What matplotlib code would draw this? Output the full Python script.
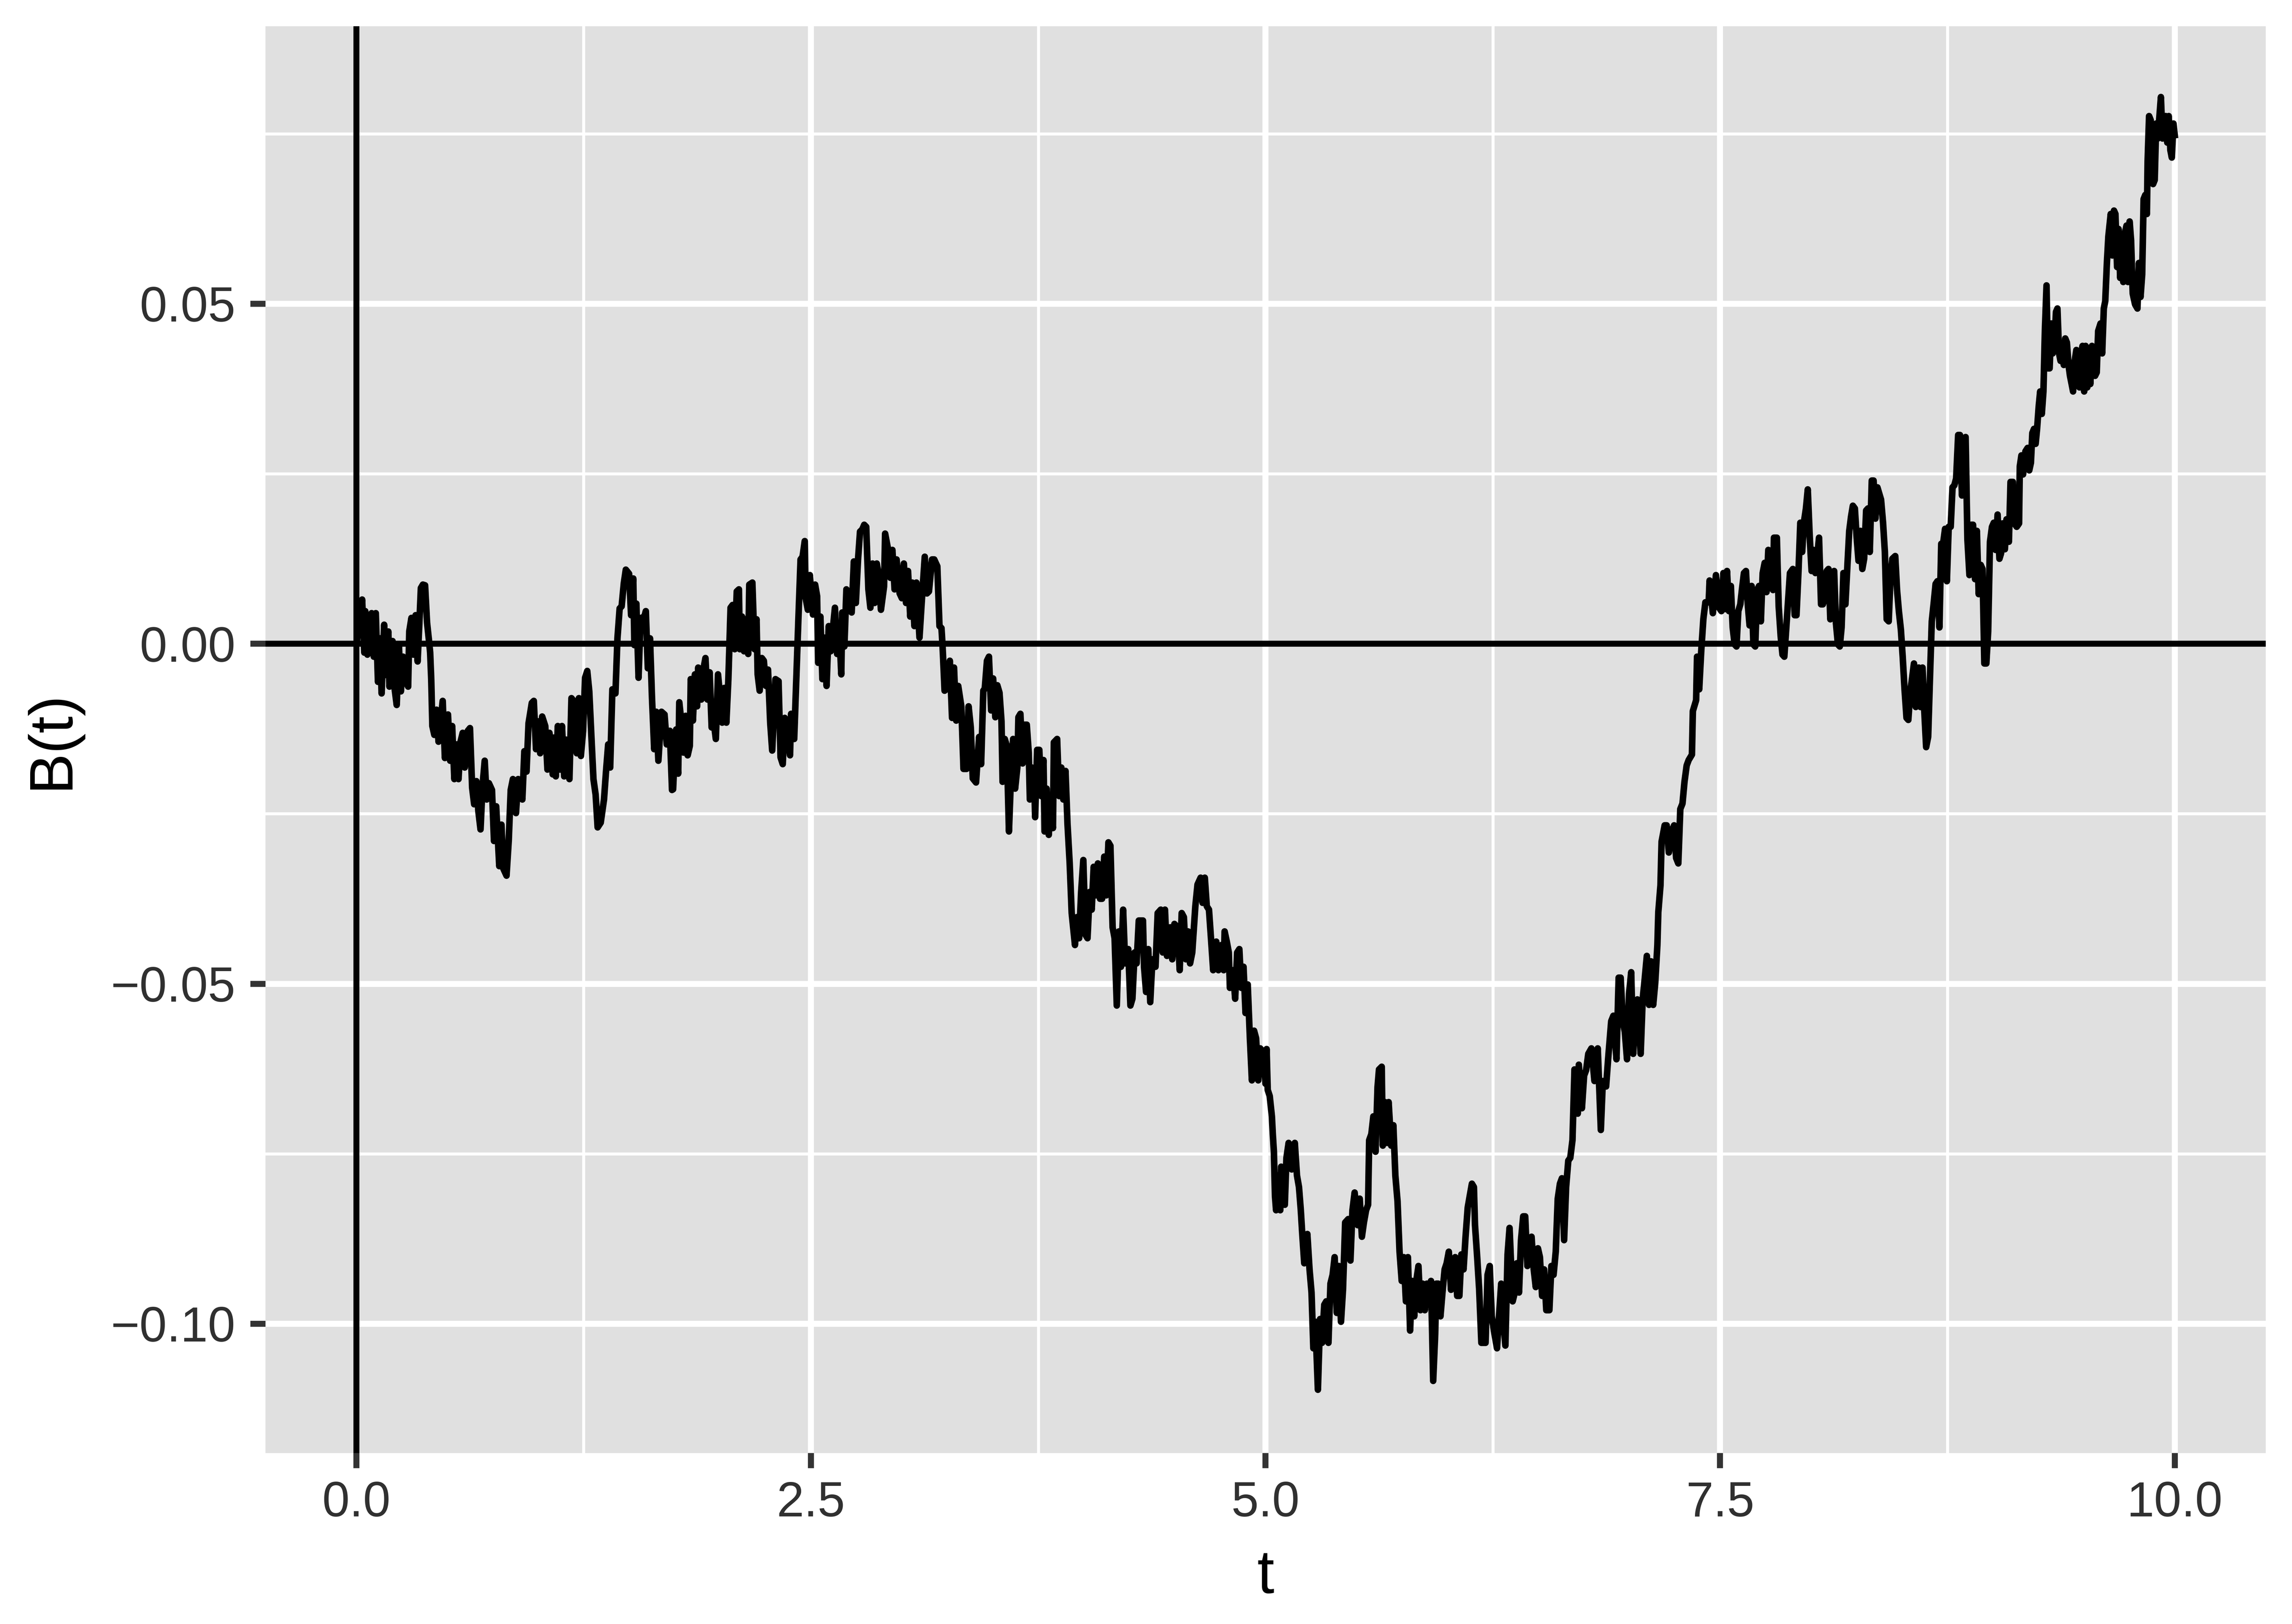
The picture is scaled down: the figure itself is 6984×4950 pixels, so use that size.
import numpy as np
import matplotlib.pyplot as plt

# digitised Brownian path B(t) in pieces of t
path_0_to_2 = [
    (0.0, 0.0), (0.003, 0.0001), (0.015, 0.0062), (0.021, 0.0015), (0.032, 0.0065), (0.044, -0.0013),
    (0.049, 0.0048), (0.061, -0.0016), (0.073, 0.0028), (0.084, 0.0045), (0.096, -0.0019), (0.107, 0.0045),
    (0.119, -0.0056), (0.130, 0.0008), (0.139, -0.0073), (0.153, 0.0028), (0.165, -0.0046), (0.176, 0.0018),
    (0.182, -0.0063), (0.199, 0.0004), (0.211, -0.0067), (0.222, -0.0090), (0.234, -0.0002), (0.245, -0.0070),
    (0.257, -0.0019), (0.268, -0.0053), (0.285, -0.0063), (0.291, 0.0018), (0.303, 0.0038), (0.314, -0.0016),
    (0.326, 0.0042), (0.337, -0.0026), (0.349, 0.0045), (0.355, 0.0082), (0.366, 0.0087), (0.378, 0.0086),
    (0.389, 0.0031), (0.401, 0.0001), (0.406, -0.0013), (0.412, -0.0053), (0.418, -0.0121), (0.429, -0.0134),
    (0.441, -0.0097), (0.452, -0.0144), (0.475, -0.0084), (0.487, -0.0168), (0.504, -0.0104), (0.516, -0.0172),
    (0.527, -0.0121), (0.539, -0.0199), (0.550, -0.0148), (0.562, -0.0199), (0.573, -0.0144), (0.585, -0.0131),
    (0.596, -0.0182), (0.613, -0.0128), (0.625, -0.0124), (0.637, -0.0212), (0.648, -0.0236), (0.660, -0.0202),
    (0.671, -0.0246), (0.683, -0.0273), (0.694, -0.0209), (0.706, -0.0172), (0.717, -0.0229), (0.729, -0.0205),
    (0.746, -0.0215), (0.757, -0.0290), (0.769, -0.0239), (0.786, -0.0327), (0.798, -0.0266), (0.809, -0.0331),
    (0.826, -0.0341), (0.838, -0.0290), (0.849, -0.0215), (0.861, -0.0199), (0.878, -0.0249), (0.890, -0.0199),
    (0.913, -0.0229), (0.924, -0.0158), (0.936, -0.0188), (0.947, -0.0117), (0.965, -0.0087), (0.976, -0.0084),
    (0.988, -0.0155), (0.999, -0.0114), (1.011, -0.0161), (1.022, -0.0107), (1.039, -0.0121), (1.051, -0.0185),
    (1.062, -0.0131), (1.080, -0.0192), (1.085, -0.0138), (1.097, -0.0195), (1.108, -0.0121), (1.120, -0.0185),
    (1.131, -0.0121), (1.143, -0.0195), (1.154, -0.0141), (1.172, -0.0199), (1.183, -0.0080), (1.195, -0.0084),
    (1.212, -0.0161), (1.224, -0.0080), (1.235, -0.0165), (1.247, -0.0128), (1.258, -0.0050), (1.270, -0.0040),
    (1.281, -0.0070), (1.293, -0.0138), (1.304, -0.0199), (1.316, -0.0222), (1.327, -0.0270), (1.344, -0.0263),
    (1.362, -0.0229), (1.373, -0.0188), (1.385, -0.0148), (1.396, -0.0182), (1.408, -0.0067), (1.425, -0.0073),
    (1.436, 0.0008), (1.448, 0.0052), (1.459, 0.0055), (1.471, 0.0089), (1.482, 0.0109), (1.500, 0.0103),
    (1.511, 0.0042), (1.523, 0.0096), (1.529, -0.0002), (1.540, 0.0059), (1.552, -0.0050), (1.563, 0.0038),
    (1.575, 0.0038), (1.586, 0.0042), (1.592, 0.0048), (1.603, -0.0036), (1.615, 0.0008), (1.626, -0.0080),
    (1.638, -0.0155), (1.649, -0.0100), (1.661, -0.0172), (1.678, -0.0100), (1.695, -0.0104), (1.707, -0.0148),
    (1.724, -0.0128), (1.736, -0.0215),
]

path_2_to_3 = [
    (1.742, -0.0214), (1.753, -0.0150), (1.759, -0.0126), (1.770, -0.0191), (1.776, -0.0086), (1.788, -0.0116),
    (1.799, -0.0160), (1.811, -0.0106), (1.822, -0.0164), (1.834, -0.0150), (1.839, -0.0052), (1.851, -0.0113),
    (1.862, -0.0045), (1.874, -0.0092), (1.880, -0.0035), (1.897, -0.0082), (1.908, -0.0038), (1.920, -0.0021),
    (1.931, -0.0082), (1.943, -0.0042), (1.954, -0.0123), (1.966, -0.0116), (1.977, -0.0140), (1.989, -0.0045),
    (2.000, -0.0076), (2.012, -0.0116), (2.023, -0.0065), (2.035, -0.0116), (2.046, -0.0052), (2.058, 0.0053),
    (2.069, 0.0057), (2.081, -0.0008), (2.092, 0.0077), (2.104, 0.0080), (2.109, -0.0008), (2.121, 0.0040),
    (2.132, -0.0011), (2.144, 0.0036), (2.155, -0.0015), (2.161, 0.0087), (2.178, 0.0090), (2.190, -0.0008),
    (2.201, 0.0036), (2.207, -0.0045), (2.218, -0.0069), (2.230, -0.0021), (2.241, -0.0025), (2.253, -0.0062),
    (2.264, -0.0038), (2.276, -0.0116), (2.287, -0.0157), (2.305, -0.0052), (2.322, -0.0055), (2.333, -0.0167),
    (2.345, -0.0177), (2.356, -0.0109), (2.368, -0.0116), (2.385, -0.0164), (2.391, -0.0103), (2.408, -0.0140),
    (2.420, -0.0048), (2.431, 0.0036), (2.443, 0.0124), (2.454, 0.0128), (2.466, 0.0151), (2.471, 0.0067),
    (2.483, 0.0050), (2.494, 0.0101), (2.511, 0.0043), (2.523, 0.0087), (2.534, 0.0070), (2.540, -0.0028),
    (2.552, 0.0040), (2.563, -0.0052), (2.575, 0.0009), (2.586, -0.0062), (2.598, 0.0026), (2.609, -0.0011),
    (2.621, 0.0023), (2.632, 0.0053), (2.644, -0.0015), (2.655, 0.0023), (2.667, -0.0045), (2.672, 0.0046),
    (2.684, -0.0004), (2.695, 0.0080), (2.707, 0.0053), (2.724, 0.0046), (2.736, 0.0121), (2.747, 0.0060),
    (2.759, 0.0124), (2.770, 0.0165), (2.782, 0.0168), (2.793, 0.0175), (2.804, 0.0172), (2.816, 0.0080),
    (2.827, 0.0053), (2.839, 0.0118), (2.850, 0.0060), (2.862, 0.0118), (2.873, 0.0101), (2.885, 0.0050),
    (2.902, 0.0084), (2.908, 0.0162), (2.925, 0.0138), (2.937, 0.0097), (2.948, 0.0138), (2.960, 0.0080),
    (2.971, 0.0124), (2.988, 0.0074), (3.000, 0.0067), (3.011, 0.0118), (3.023, 0.0060), (3.034, 0.0107),
    (3.046, 0.0040), (3.057, 0.0090), (3.069, 0.0026), (3.080, 0.0090), (3.097, 0.0009), (3.109, 0.0060),
    (3.126, 0.0128), (3.138, 0.0074), (3.149, 0.0077), (3.166, 0.0124), (3.178, 0.0124), (3.195, 0.0114),
    (3.207, 0.0026), (3.218, 0.0023), (3.224, -0.0004), (3.235, -0.0069), (3.253, -0.0065), (3.264, -0.0025),
    (3.276, -0.0109), (3.287, -0.0035), (3.299, -0.0113), (3.310, -0.0062), (3.327, -0.0092), (3.339, -0.0184),
    (3.356, -0.0184), (3.367, -0.0092), (3.379, -0.0123), (3.390, -0.0198), (3.408, -0.0204), (3.425, -0.0137),
    (3.436, -0.0177), (3.448, -0.0069),
]

path_3_to_5 = [
    (3.456, -0.0066), (3.468, -0.0025), (3.479, -0.0019), (3.491, -0.0098), (3.502, -0.0051), (3.514, -0.0108),
    (3.525, -0.0061), (3.537, -0.0072), (3.548, -0.0114), (3.554, -0.0203), (3.566, -0.0140), (3.577, -0.0150),
    (3.589, -0.0276), (3.600, -0.0197), (3.612, -0.0140), (3.623, -0.0213), (3.635, -0.0182), (3.641, -0.0108),
    (3.652, -0.0103), (3.664, -0.0176), (3.675, -0.0119), (3.687, -0.0119), (3.698, -0.0161), (3.704, -0.0229),
    (3.715, -0.0182), (3.727, -0.0192), (3.733, -0.0255), (3.744, -0.0156), (3.756, -0.0156), (3.767, -0.0224),
    (3.779, -0.0171), (3.785, -0.0276), (3.796, -0.0213), (3.808, -0.0281), (3.819, -0.0229), (3.831, -0.0271),
    (3.836, -0.0145), (3.854, -0.0140), (3.865, -0.0224), (3.877, -0.0182), (3.888, -0.0229), (3.900, -0.0187),
    (3.911, -0.0265), (3.923, -0.0323), (3.934, -0.0396), (3.952, -0.0443), (3.963, -0.0402), (3.975, -0.0433),
    (3.986, -0.0365), (3.998, -0.0318), (4.010, -0.0428), (4.021, -0.0433), (4.033, -0.0365), (4.044, -0.0391),
    (4.055, -0.0328), (4.067, -0.0370), (4.078, -0.0323), (4.090, -0.0375), (4.101, -0.0375), (4.113, -0.0313),
    (4.124, -0.0370), (4.136, -0.0292), (4.147, -0.0297), (4.159, -0.0417), (4.170, -0.0433), (4.182, -0.0532),
    (4.194, -0.0423), (4.205, -0.0475), (4.217, -0.0391), (4.228, -0.0470), (4.245, -0.0449), (4.257, -0.0532),
    (4.268, -0.0522), (4.280, -0.0454), (4.291, -0.0470), (4.303, -0.0407), (4.314, -0.0407), (4.326, -0.0407),
    (4.332, -0.0475), (4.343, -0.0512), (4.355, -0.0449), (4.366, -0.0527), (4.378, -0.0464), (4.395, -0.0475),
    (4.407, -0.0396), (4.424, -0.0391), (4.435, -0.0454), (4.447, -0.0391), (4.458, -0.0459), (4.476, -0.0417),
    (4.487, -0.0464), (4.499, -0.0412), (4.516, -0.0417), (4.528, -0.0480), (4.539, -0.0396), (4.551, -0.0402),
    (4.562, -0.0464), (4.574, -0.0423), (4.585, -0.0470), (4.597, -0.0454), (4.614, -0.0386), (4.626, -0.0354),
    (4.643, -0.0344), (4.654, -0.0381), (4.666, -0.0344), (4.677, -0.0386), (4.689, -0.0391), (4.700, -0.0433),
    (4.712, -0.0480), (4.729, -0.0438), (4.741, -0.0480), (4.758, -0.0443), (4.770, -0.0480), (4.775, -0.0423),
    (4.787, -0.0438), (4.798, -0.0454), (4.804, -0.0506), (4.821, -0.0480), (4.833, -0.0522), (4.844, -0.0454),
    (4.856, -0.0449), (4.867, -0.0506), (4.879, -0.0475), (4.890, -0.0543), (4.902, -0.0501), (4.914, -0.0580),
    (4.925, -0.0642), (4.937, -0.0569), (4.948, -0.0580), (4.960, -0.0642), (4.971, -0.0595), (4.988, -0.0601),
    (5.000, -0.0647),
]

path_5_to_7 = [
    (5.006, -0.0596), (5.012, -0.0656), (5.023, -0.0665), (5.035, -0.0695), (5.040, -0.0721), (5.046, -0.0747),
    (5.052, -0.0812), (5.058, -0.0833), (5.067, -0.0782), (5.075, -0.0825), (5.081, -0.0833), (5.086, -0.0769),
    (5.098, -0.0807), (5.106, -0.0825), (5.115, -0.0756), (5.127, -0.0734), (5.144, -0.0773), (5.161, -0.0734),
    (5.173, -0.0782), (5.184, -0.0799), (5.194, -0.0833), (5.202, -0.0868), (5.213, -0.0911), (5.230, -0.0868),
    (5.242, -0.0920), (5.253, -0.0954), (5.263, -0.1036), (5.274, -0.0997), (5.288, -0.1097), (5.300, -0.0993),
    (5.311, -0.1028), (5.323, -0.0972), (5.334, -0.0967), (5.346, -0.1028), (5.357, -0.0941), (5.369, -0.0928),
    (5.380, -0.0902), (5.392, -0.0984), (5.403, -0.0915), (5.415, -0.0997), (5.426, -0.0950), (5.438, -0.0851),
    (5.455, -0.0846), (5.467, -0.0907), (5.478, -0.0833), (5.490, -0.0807), (5.507, -0.0855), (5.518, -0.0816),
    (5.530, -0.0872), (5.541, -0.0851), (5.553, -0.0833), (5.564, -0.0825), (5.570, -0.0730), (5.582, -0.0721),
    (5.593, -0.0695), (5.605, -0.0747), (5.616, -0.0652), (5.624, -0.0626), (5.639, -0.0622), (5.645, -0.0738),
    (5.657, -0.0674), (5.668, -0.0734), (5.677, -0.0674), (5.691, -0.0738), (5.703, -0.0708), (5.714, -0.0782),
    (5.726, -0.0820), (5.737, -0.0894), (5.749, -0.0937), (5.760, -0.0902), (5.772, -0.0967), (5.783, -0.0902),
    (5.795, -0.1010), (5.806, -0.0937), (5.818, -0.0989), (5.829, -0.0937), (5.841, -0.0915), (5.852, -0.0980),
    (5.864, -0.0941), (5.876, -0.0980), (5.887, -0.0941), (5.899, -0.0954), (5.910, -0.0937), (5.922, -0.1084),
    (5.933, -0.1015), (5.939, -0.0941), (5.950, -0.0941), (5.962, -0.0989), (5.973, -0.0954), (5.985, -0.0920),
    (5.996, -0.0911), (6.008, -0.0894), (6.020, -0.0950), (6.031, -0.0907), (6.043, -0.0902), (6.054, -0.0959),
    (6.066, -0.0959), (6.077, -0.0898), (6.089, -0.0920), (6.100, -0.0872), (6.112, -0.0829), (6.123, -0.0812),
    (6.135, -0.0794), (6.146, -0.0799), (6.152, -0.0855), (6.164, -0.0902), (6.175, -0.0950), (6.187, -0.1028),
    (6.210, -0.1028), (6.221, -0.0928), (6.233, -0.0915), (6.244, -0.0989), (6.256, -0.1010), (6.273, -0.1036),
    (6.284, -0.0989), (6.296, -0.0941), (6.308, -0.0997), (6.319, -0.1032), (6.331, -0.0898), (6.342, -0.0859),
    (6.359, -0.0967), (6.371, -0.0954), (6.382, -0.0911), (6.394, -0.0954), (6.405, -0.0877), (6.417, -0.0842),
    (6.428, -0.0842), (6.440, -0.0915), (6.452, -0.0877), (6.463, -0.0872), (6.475, -0.0920), (6.486, -0.0946),
    (6.498, -0.0889), (6.509, -0.0902), (6.521, -0.0959), (6.532, -0.0920), (6.544, -0.0980), (6.561, -0.0980),
    (6.572, -0.0915), (6.584, -0.0928), (6.596, -0.0894), (6.607, -0.0816), (6.619, -0.0794), (6.630, -0.0786),
    (6.642, -0.0877), (6.653, -0.0799), (6.665, -0.0760), (6.676, -0.0756), (6.688, -0.0730), (6.699, -0.0626),
]

path_7_to_8 = [
    (6.706, -0.0635), (6.717, -0.0691), (6.723, -0.0619), (6.740, -0.0683), (6.752, -0.0635), (6.763, -0.0627),
    (6.775, -0.0603), (6.792, -0.0595), (6.809, -0.0643), (6.827, -0.0595), (6.844, -0.0715), (6.855, -0.0643),
    (6.873, -0.0651), (6.884, -0.0611), (6.901, -0.0555), (6.913, -0.0547), (6.930, -0.0611), (6.942, -0.0491),
    (6.953, -0.0491), (6.965, -0.0555), (6.976, -0.0571), (6.988, -0.0611), (6.999, -0.0515), (7.011, -0.0483),
    (7.022, -0.0603), (7.034, -0.0531), (7.045, -0.0523), (7.063, -0.0603), (7.074, -0.0523), (7.086, -0.0491),
    (7.097, -0.0459), (7.109, -0.0531), (7.120, -0.0467), (7.132, -0.0531), (7.143, -0.0499), (7.155, -0.0443),
    (7.160, -0.0395), (7.172, -0.0355), (7.178, -0.0291), (7.195, -0.0267), (7.206, -0.0267), (7.218, -0.0307),
    (7.235, -0.0275), (7.247, -0.0267), (7.258, -0.0315), (7.270, -0.0323), (7.281, -0.0243), (7.293, -0.0235),
    (7.304, -0.0203), (7.316, -0.0179), (7.327, -0.0171), (7.345, -0.0163), (7.350, -0.0099), (7.368, -0.0083),
    (7.373, -0.0019), (7.385, -0.0067), (7.396, -0.0011), (7.408, 0.0037), (7.419, 0.0061), (7.437, 0.0061),
    (7.442, 0.0093), (7.460, 0.0045), (7.477, 0.0101), (7.494, 0.0053),
    (7.507, 0.0048), (7.518, 0.0104), (7.528, 0.0051), (7.538, 0.0107), (7.549, 0.0048), (7.559, 0.0085),
    (7.569, 0.0024), (7.580, -0.0001), (7.590, -0.0004), (7.600, 0.0048), (7.611, 0.0058), (7.621, 0.0082),
    (7.631, 0.0104), (7.642, 0.0107), (7.652, 0.0058), (7.662, 0.0027), (7.673, 0.0085), (7.683, -0.0001),
    (7.693, -0.0004), (7.704, 0.0079), (7.714, 0.0085), (7.724, 0.0033), (7.734, 0.0104), (7.745, 0.0119),
    (7.755, 0.0076), (7.765, 0.0138), (7.781, 0.0135), (7.791, 0.0079), (7.796, 0.0156), (7.812, 0.0156),
    (7.822, 0.0055), (7.833, 0.0011), (7.843, -0.0016), (7.853, -0.0019), (7.864, 0.0024), (7.874, 0.0064),
    (7.884, 0.0104), (7.900, 0.0110), (7.910, 0.0042), (7.920, 0.0042), (7.931, 0.0107), (7.941, 0.0178),
    (7.951, 0.0135), (7.962, 0.0181), (7.972, 0.0199), (7.982, 0.0227), (7.993, 0.0156),
]

path_8_to_9 = [
    (8.003, 0.0107), (8.013, 0.0138), (8.024, 0.0104), (8.034, 0.0129), (8.044, 0.0156), (8.055, 0.0058),
    (8.065, 0.0058), (8.075, 0.0067), (8.086, 0.0107), (8.096, 0.0110), (8.106, 0.0036), (8.117, 0.0095),
    (8.127, 0.0107), (8.137, 0.0030), (8.148, -0.0001), (8.158, -0.0004), (8.168, 0.0024), (8.178, 0.0104),
    (8.189, 0.0058), (8.199, 0.0110), (8.210, 0.0166), (8.220, 0.0187), (8.230, 0.0203), (8.241, 0.0199),
    (8.251, 0.0156), (8.261, 0.0122), (8.272, 0.0166), (8.282, 0.0110), (8.292, 0.0125), (8.303, 0.0196),
    (8.313, 0.0199), (8.323, 0.0135), (8.334, 0.0240), (8.344, 0.0240), (8.354, 0.0184), (8.365, 0.0230),
    (8.375, 0.0221), (8.385, 0.0212), (8.396, 0.0178), (8.406, 0.0135), (8.416, 0.0036), (8.427, 0.0033),
    (8.437, 0.0098), (8.447, 0.0125), (8.463, 0.0129), (8.473, 0.0079), (8.483, 0.0048), (8.494, 0.0021),
    (8.504, -0.0019), (8.514, -0.0066), (8.525, -0.0109), (8.535, -0.0112), (8.545, -0.0072), (8.556, -0.0050),
    (8.566, -0.0029), (8.576, -0.0093), (8.592, -0.0035), (8.602, -0.0093), (8.613, -0.0035), (8.623, -0.0100),
    (8.633, -0.0152), (8.644, -0.0137), (8.654, -0.0050), (8.664, 0.0033), (8.675, 0.0061), (8.685, 0.0088),
    (8.695, 0.0092), (8.706, 0.0024), (8.716, 0.0147), (8.726, 0.0147), (8.737, 0.0169), (8.747, 0.0092),
    (8.757, 0.0172), (8.768, 0.0172), (8.778, 0.0230), (8.788, 0.0233), (8.798, 0.0243), (8.809, 0.0307),
    (8.819, 0.0307), (8.830, 0.0218), (8.840, 0.0301), (8.850, 0.0304), (8.860, 0.0153), (8.871, 0.0101),
    (8.881, 0.0175), (8.891, 0.0175), (8.902, 0.0095), (8.912, 0.0166), (8.922, 0.0073), (8.933, 0.0116),
    (8.943, 0.0110), (8.953, -0.0029), (8.964, -0.0029), (8.974, 0.0018), (8.984, 0.0150), (8.995, 0.0172),
    (9.005, 0.0178), (9.015, 0.0138), (9.026, 0.0190), (9.036, 0.0125),
]

path_9_to_10 = [
    (9.045, 0.0133), (9.054, 0.0177), (9.066, 0.0139), (9.075, 0.0183), (9.088, 0.0150), (9.097, 0.0238),
    (9.110, 0.0238), (9.118, 0.0177), (9.131, 0.0172), (9.144, 0.0177), (9.148, 0.0261), (9.157, 0.0277),
    (9.166, 0.0249), (9.179, 0.0283), (9.191, 0.0288), (9.200, 0.0255), (9.209, 0.0266), (9.217, 0.0310),
    (9.226, 0.0316), (9.235, 0.0294), (9.243, 0.0316), (9.252, 0.0349), (9.260, 0.0371), (9.269, 0.0338),
    (9.278, 0.0371), (9.286, 0.0460), (9.295, 0.0527), (9.303, 0.0405), (9.312, 0.0405), (9.321, 0.0471),
    (9.329, 0.0427), (9.338, 0.0438), (9.347, 0.0488), (9.355, 0.0493), (9.364, 0.0427), (9.372, 0.0416),
    (9.381, 0.0438), (9.390, 0.0410), (9.398, 0.0449), (9.407, 0.0443), (9.416, 0.0410), (9.424, 0.0394),
    (9.433, 0.0382), (9.441, 0.0371), (9.450, 0.0416), (9.459, 0.0432), (9.467, 0.0427), (9.476, 0.0377),
    (9.485, 0.0427), (9.493, 0.0438), (9.502, 0.0371), (9.510, 0.0438), (9.519, 0.0377), (9.528, 0.0432),
    (9.536, 0.0382), (9.545, 0.0438), (9.553, 0.0427), (9.562, 0.0394), (9.571, 0.0399), (9.579, 0.0460),
    (9.592, 0.0471), (9.601, 0.0427), (9.610, 0.0493), (9.618, 0.0504), (9.627, 0.0560), (9.635, 0.0599),
    (9.648, 0.0632), (9.657, 0.0571), (9.666, 0.0637), (9.674, 0.0632), (9.683, 0.0554), (9.691, 0.0610),
    (9.700, 0.0538), (9.709, 0.0588), (9.717, 0.0532), (9.726, 0.0604), (9.735, 0.0615), (9.743, 0.0532),
    (9.752, 0.0621), (9.760, 0.0593), (9.769, 0.0515), (9.782, 0.0499), (9.795, 0.0493), (9.803, 0.0560),
    (9.812, 0.0510), (9.821, 0.0543), (9.829, 0.0654), (9.838, 0.0660), (9.847, 0.0632), (9.851, 0.0710),
    (9.859, 0.0776), (9.868, 0.0770), (9.881, 0.0676), (9.890, 0.0682), (9.898, 0.0765), (9.907, 0.0743),
    (9.916, 0.0776), (9.924, 0.0804), (9.933, 0.0743), (9.941, 0.0748), (9.950, 0.0776), (9.959, 0.0737),
    (9.967, 0.0776), (9.976, 0.0726), (9.984, 0.0715), (9.993, 0.0765), (10.000, 0.0748),
]

x_ticks = [0.0, 2.5, 5.0, 7.5, 10.0]
x_tick_labels = ["0.0", "2.5", "5.0", "7.5", "10.0"]
x_minor = [1.25, 3.75, 6.25, 8.75]
y_ticks = [-0.10, -0.05, 0.00, 0.05]
y_tick_labels = ["\u22120.10", "\u22120.05", "0.00", "0.05"]
y_minor = [-0.075, -0.025, 0.025, 0.075]


def main():
    pts = np.array(path_0_to_2 + path_2_to_3 + path_3_to_5 + path_5_to_7
                   + path_7_to_8 + path_8_to_9 + path_9_to_10)
    t, b = pts[:, 0], pts[:, 1]

    plt.rcParams['font.family'] = ['Liberation Sans', 'DejaVu Sans']

    fig = plt.figure(figsize=(11.64, 8.25), dpi=600)
    ax = fig.add_axes([0.1158, 0.1053, 0.8727, 0.8785])
    ax.set_facecolor('#e0e0e0')
    for s in ax.spines.values():
        s.set_visible(False)

    ax.set_xlim(-0.5, 10.5)
    ax.set_ylim(-0.1190, 0.0908)
    ax.set_xticks(x_ticks)
    ax.set_xticklabels(x_tick_labels)
    ax.set_xticks(x_minor, minor=True)
    ax.set_yticks(y_ticks)
    ax.set_yticklabels(y_tick_labels)
    ax.set_yticks(y_minor, minor=True)

    ax.set_axisbelow(True)
    ax.grid(which='major', color='white', linewidth=2.2)
    ax.grid(which='minor', color='white', linewidth=1.1)
    ax.tick_params(which='major', length=5.5, width=2.2, color='#333333',
                   labelsize=18, labelcolor='#303030')
    ax.tick_params(axis='x', which='major', pad=4.6)
    ax.tick_params(axis='y', which='major', pad=5.5)
    ax.tick_params(which='minor', length=0)

    ax.axhline(0, color='black', linewidth=2.2, zorder=2)
    ax.axvline(0, color='black', linewidth=2.2, zorder=2)
    ax.plot(t, b, color='black', linewidth=2.4, solid_joinstyle='round', zorder=3)

    ax.set_xlabel('t', fontsize=22.5, color='black', labelpad=8)
    ax.set_ylabel('B(t)', fontsize=22.5, color='black', labelpad=11)

    fig.savefig('out.png', dpi=600)


if __name__ == '__main__':
    main()
